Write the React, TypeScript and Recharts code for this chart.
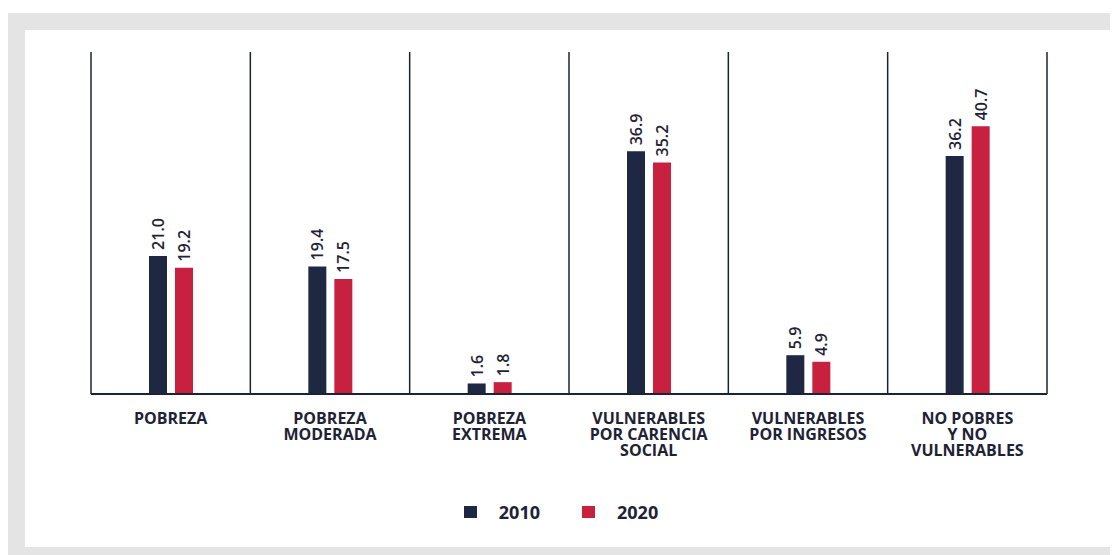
import {
  BarChart,
  Bar,
  XAxis,
  YAxis,
  CartesianGrid,
  Legend,
  LabelList,
} from "recharts";

const categories = [
  "POBREZA",
  "POBREZA\nMODERADA",
  "POBREZA\nEXTREMA",
  "VULNERABLES\nPOR CARENCIA\nSOCIAL",
  "VULNERABLES\nPOR INGRESOS",
  "NO POBRES\nY NO\nVULNERABLES",
];
const values2010 = [21.0, 19.4, 1.6, 36.9, 5.9, 36.2];
const values2020 = [19.2, 17.5, 1.8, 35.2, 4.9, 40.7];
const seriesNames = ["2010", "2020"];

const NAVY = "#1f2843";
const RED = "#c8213f";
const INK = "#1e2235";
const FONT = "'Open Sans', sans-serif";

const data = categories.map((name, i) => ({
  name,
  y2010: values2010[i],
  y2020: values2020[i],
}));

// multi-line category labels, one <text> per line
function CategoryTick({ x, y, payload }: any) {
  const lines = String(payload.value).split("\n");
  return (
    <g>
      {lines.map((line, i) => (
        <text
          key={i}
          x={x}
          y={y + 28 + i * 16}
          textAnchor="middle"
          fill={INK}
          fontFamily={FONT}
          fontSize={16}
          fontWeight={700}
        >
          {line}
        </text>
      ))}
    </g>
  );
}

function ValueLabel({ x, y, width, value }: any) {
  const cx = x + width / 2;
  const ty = y - 6;
  return (
    <text
      x={cx}
      y={ty}
      transform={`rotate(-90 ${cx} ${ty})`}
      textAnchor="start"
      dominantBaseline="central"
      fill={INK}
      fontFamily={FONT}
      fontSize={16}
      fontWeight={600}
    >
      {Number(value).toFixed(1)}
    </text>
  );
}

function LegendContent() {
  const colors = [NAVY, RED];
  return (
    <div
      style={{
        display: "flex",
        justifyContent: "center",
        alignItems: "center",
        height: 24,
        gap: 42,
        paddingRight: 16,
        fontFamily: FONT,
      }}
    >
      {seriesNames.map((s, i) => (
        <div key={s} style={{ display: "flex", alignItems: "center", gap: 22 }}>
          <span style={{ width: 13, height: 12, background: colors[i], display: "inline-block" }} />
          <span style={{ fontSize: 18, fontWeight: 700, color: INK }}>{s}</span>
        </div>
      ))}
    </div>
  );
}

export default function App() {
  return (
    <div style={{ paddingTop: 5 }}>
      <div
        style={{
          width: 1110,
          height: 542,
          boxSizing: "border-box",
          background: "#e4e4e4",
          padding: "17px 5px 8px 17px",
        }}
      >
        <div style={{ width: 1088, height: 517, background: "#ffffff" }}>
          <BarChart
            width={1088}
            height={517}
            data={data}
            margin={{ top: 22, right: 66, left: 66, bottom: 23 }}
            barSize={18}
            barGap={8}
          >
            <CartesianGrid
              horizontal={false}
              stroke={INK}
              strokeWidth={1.5}
              verticalCoordinatesGenerator={({ offset }: any) =>
                Array.from({ length: categories.length + 1 }, (_, i) =>
                  offset.left + (i * offset.width) / categories.length
                )
              }
            />
            <XAxis
              dataKey="name"
              interval={0}
              height={106}
              tickLine={false}
              tickSize={0}
              axisLine={{ stroke: INK, strokeWidth: 2 }}
              tick={<CategoryTick />}
            />
            <YAxis hide domain={[0, 52]} />
            <Legend verticalAlign="bottom" content={<LegendContent />} />
            <Bar dataKey="y2010" name={seriesNames[0]} fill={NAVY} isAnimationActive={false}>
              <LabelList dataKey="y2010" content={<ValueLabel />} />
            </Bar>
            <Bar dataKey="y2020" name={seriesNames[1]} fill={RED} isAnimationActive={false}>
              <LabelList dataKey="y2020" content={<ValueLabel />} />
            </Bar>
          </BarChart>
        </div>
      </div>
    </div>
  );
}
